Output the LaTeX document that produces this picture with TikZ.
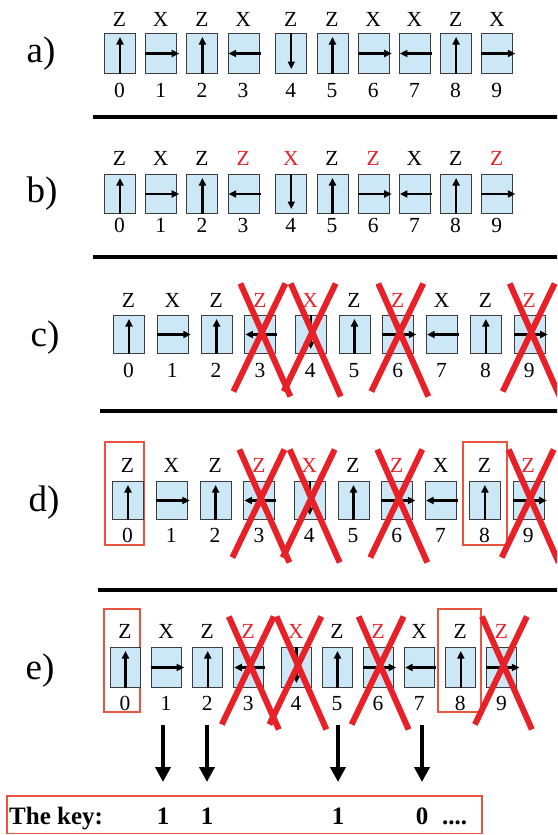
\documentclass[tikz,border=0pt]{standalone}
\usepackage{fontspec}
\setmainfont{Liberation Serif}
\usetikzlibrary{arrows.meta}

\definecolor{cellblue}{RGB}{204,232,247}
\definecolor{celledge}{RGB}{60,60,60}
\definecolor{markred}{RGB}{232,32,40}
\definecolor{framered}{RGB}{232,84,64}

\tikzset{
  cell/.style={draw=celledge, line width=1pt, fill=cellblue, inner sep=0pt, anchor=north west},
  spin/.style={line width=2.3pt, -{Triangle[length=7.5pt,width=7pt]}},
  basis/.style={font=\fontsize{21.5}{21.5}\selectfont, inner sep=0pt, anchor=base},
  idx/.style={font=\fontsize{21.5}{21.5}\selectfont, inner sep=0pt, anchor=base},
  rowtag/.style={font=\fontsize{37}{37}\selectfont, inner sep=0pt},
  rule/.style={line width=3.5pt},
  xmark/.style={draw=markred, line width=6pt},
  keep/.style={draw=framered, line width=1.3pt},
  keyframe/.style={draw=framered, line width=1.6pt},
  keyarrow/.style={line width=4pt, -{Triangle[length=15pt,width=15pt]}},
  keytext/.style={font=\bfseries\fontsize{25}{25}\selectfont, inner sep=0pt, anchor=base},
}

% photon polarisation arrows inside a cell
\newcommand\spinu[1]{\draw[spin] (#1.south) -- ([yshift=-4pt]#1.north);}
\newcommand\spind[1]{\draw[spin] (#1.north) -- ([yshift=5pt]#1.south);}
\newcommand\spinr[1]{\draw[spin] (#1.west) -- ([xshift=2pt]#1.east);}
\newcommand\spinl[1]{\draw[spin] ([xshift=1pt]#1.east) -- ([xshift=1pt]#1.west);}

% one row of ten cells: id, left x, pitch, width, height, top, basis baseline, index baseline, list
\newcommand\qrow[9]{%
  \foreach \i/\s/\b/\c in #9 {
    \pgfmathsetmacro\xl{#2+#3*\i+(\i>3)*6.5}
    \pgfmathsetmacro\xc{\xl+#4/2}
    \node[cell, minimum width=#4pt, minimum height=#5pt] (#1box\i) at (\xl,#6) {};
    \csname spin\s\endcsname{#1box\i}
    \node[basis, text=\c] (#1lab\i) at (\xc,#7) {\b};
    \node[idx] (#1num\i) at (\xc,#8) {\i};
  }%
}

% red cross over a discarded cell
\newcommand\strike[1]{%
  \draw[xmark] ([shift={(-27,57)}]#1.center) -- ([shift={(25,-51)}]#1.center);
  \draw[xmark] ([shift={(-20,-51)}]#1.center) -- ([shift={(30,62)}]#1.center);
}

\def\plainbases{0/u/Z/black,1/r/X/black,2/u/Z/black,3/l/X/black,4/d/Z/black,5/u/Z/black,6/r/X/black,7/l/X/black,8/u/Z/black,9/r/X/black}
\def\bobbases{0/u/Z/black,1/r/X/black,2/u/Z/black,3/l/Z/markred,4/d/X/markred,5/u/Z/black,6/r/Z/markred,7/l/X/black,8/u/Z/black,9/r/Z/markred}

\begin{document}
\begin{tikzpicture}[x=1pt,y=-1pt]
  \useasboundingbox (0,0) rectangle (557,835);
  \clip (0,0) rectangle (557,835);

  % a)
  \node[rowtag] (taga) at (41,54) {a)};
  \qrow{a}{104}{41.2}{31}{40}{33}{27}{97}{\plainbases}
  \draw[rule] (93,117) -- (560,117);

  % b)
  \node[rowtag] (tagb) at (42,194) {b)};
  \qrow{b}{104}{41.2}{31}{39}{174}{165.5}{232.5}{\bobbases}
  \draw[rule] (93,257) -- (560,257);

  % c)
  \node[rowtag] (tagc) at (45,338) {c)};
  \qrow{c}{113}{43.8}{31}{38}{315}{307}{377}{\bobbases}
  \foreach \k in {3,4,6,9} {\strike{cbox\k}}
  \draw[rule] (100,411) -- (560,411);

  % d)
  \node[rowtag] (tagd) at (44,503) {d)};
  \draw[keep] (105,442) rectangle (144,545);
  \draw[keep] (463,442) rectangle (507,545);
  \qrow{d}{112}{43.8}{31}{38}{481}{472.5}{542}{\bobbases}
  \foreach \k in {3,4,6,9} {\strike{dbox\k}}
  \draw[rule] (98,590) -- (560,590);

  % e)
  \node[rowtag] (tage) at (40,671) {e)};
  \draw[keep] (104,609) rectangle (140,712);
  \draw[keep] (438,609) rectangle (481,712);
  \qrow{e}{110}{41.1}{30}{40}{647}{638}{710}{\bobbases}
  \foreach \k in {3,4,6,9} {\strike{ebox\k}}

  % sifted key
  \draw[keyframe] (7,796) rectangle (482,833.5);
  \node[keytext, anchor=base west] (keylabel) at (9,824.5) {The key:};
  \node[keytext] (k1) at (163,824.5) {1};
  \node[keytext] (k2) at (207,824.5) {1};
  \node[keytext] (k3) at (338,824.5) {1};
  \node[keytext] (k4) at (422,824.5) {0};
  \node[keytext, anchor=base west] (kdots) at (442,824.5) {....};

  \foreach \k in {1,2,3,4} {
    \path (k\k.base) ++(0,-99.5) coordinate (s\k);
    \path (k\k.base) ++(0,-42.5) coordinate (t\k);
    \draw[keyarrow] (s\k) -- (t\k);
  }
\end{tikzpicture}
\end{document}
